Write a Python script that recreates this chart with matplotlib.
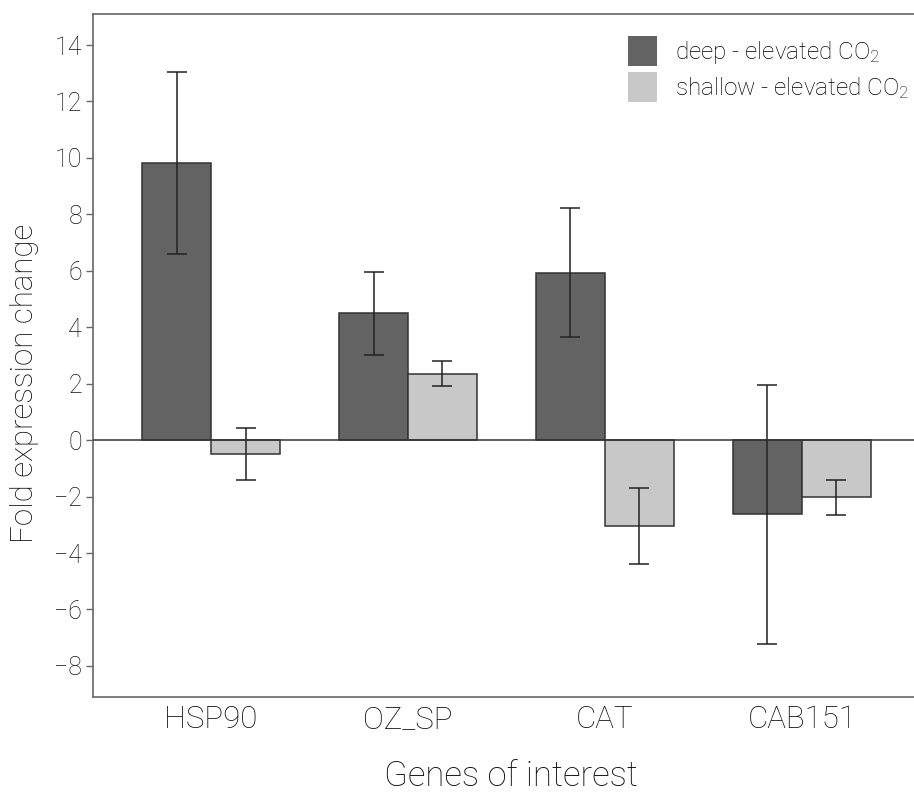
import matplotlib
matplotlib.use("Agg")
import matplotlib.pyplot as plt
import numpy as np
from matplotlib.patches import Patch

FONT = "Roboto"
plt.rcParams['font.family'] = [FONT, 'DejaVu Sans']
plt.rcParams['font.weight'] = 'light'
plt.rcParams['axes.labelweight'] = 'light'
plt.rcParams['mathtext.fontset'] = 'custom'
plt.rcParams['mathtext.rm'] = FONT + ':light'
plt.rcParams['mathtext.it'] = FONT + ':light'
plt.rcParams['mathtext.bf'] = FONT

genes = ["HSP90", "OZ_SP", "CAT", "CAB151"]
deep_vals = [9.82, 4.49, 5.94, -2.62]
deep_err = [3.21, 1.46, 2.29, 4.59]
shallow_vals = [-0.50, 2.36, -3.03, -2.03]
shallow_err = [0.92, 0.43, 1.35, 0.62]
series_labels = ["deep - elevated CO$_2$", "shallow - elevated CO$_2$"]
yticks = [-8, -6, -4, -2, 0, 2, 4, 6, 8, 10, 12, 14]

deep_color = "#636363"
shallow_color = "#c8c8c8"
edge = "#333333"

fig = plt.figure(figsize=(9.14, 7.95), dpi=100)
ax = fig.add_axes([0.1018, 0.1233, 0.8982, 0.8591])

x = np.arange(len(genes))
w = 0.35
ekw = dict(ecolor="#222222", elinewidth=1.1, capsize=7, capthick=1.1)
ax.bar(x - w/2, deep_vals, w, color=deep_color, edgecolor=edge, linewidth=1.1,
       yerr=deep_err, error_kw=ekw, zorder=2)
ax.bar(x + w/2, shallow_vals, w, color=shallow_color, edgecolor=edge, linewidth=1.1,
       yerr=shallow_err, error_kw=ekw, zorder=2)
ax.axhline(0, color="#333333", linewidth=1.1, zorder=3)

ax.set_xlim(-0.6, 3.57)
ax.set_ylim(-9.1, 15.1)
ax.set_yticks(yticks)
ax.set_xticks(x)
ax.set_xticklabels(genes, fontsize=22.5, color="#111111")
ax.tick_params(axis='x', length=0, pad=6)
ax.tick_params(axis='y', length=5, width=1, color="#666666", labelsize=18, pad=3,
               labelcolor="#111111")

ax.spines['right'].set_visible(False)
for s in ['left', 'top', 'bottom']:
    ax.spines[s].set_color("#666666")
    ax.spines[s].set_linewidth(1.2)

ax.set_ylabel("Fold expression change", fontsize=22.5, color="#111111")
ax.yaxis.set_label_coords(-0.066, 0.459)
ax.set_xlabel("Genes of interest", fontsize=25, color="#111111")
ax.xaxis.set_label_coords(0.509, -0.092)

handles = [Patch(facecolor=deep_color, edgecolor='none'),
           Patch(facecolor=shallow_color, edgecolor='none')]
ax.legend(handles, series_labels, loc='upper right', bbox_to_anchor=(1.006, 0.982),
          frameon=False, fontsize=17.5, handlelength=1.2, handleheight=1.5,
          handletextpad=0.75, labelspacing=0.25, borderaxespad=0.0)

fig.savefig("out.png", dpi=100)
